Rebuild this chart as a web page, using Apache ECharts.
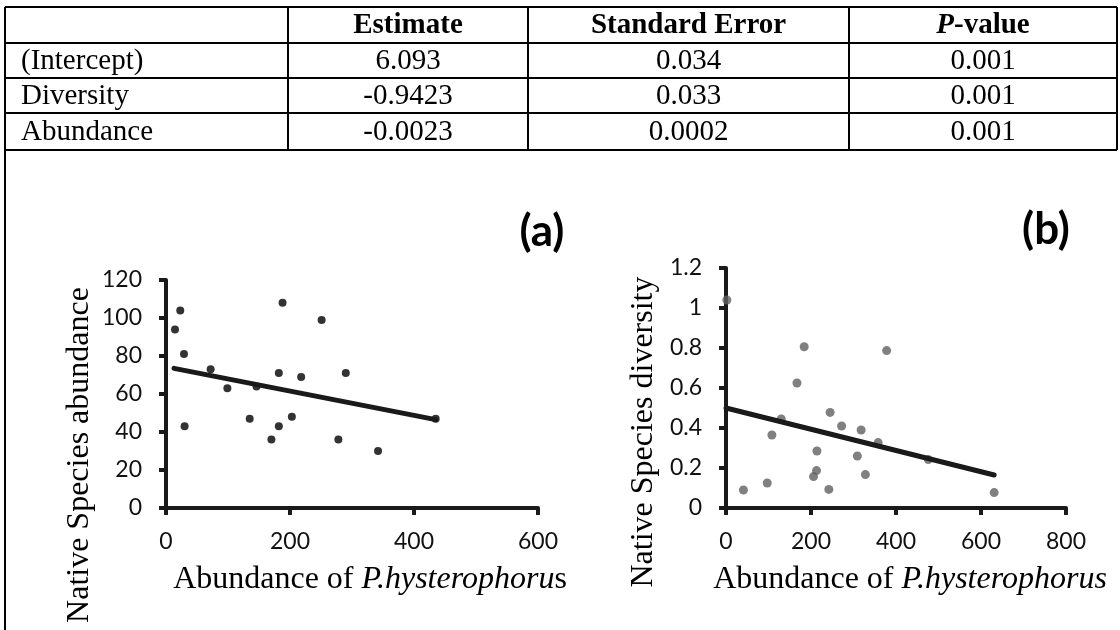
<!DOCTYPE html>
<html><head><meta charset="utf-8">
<script src="https://cdn.jsdelivr.net/npm/echarts@6/dist/echarts.min.js"></script>
<style>html,body{margin:0;padding:0;background:#fff}#c{width:1120px;height:630px}</style>
</head><body><div id="c"></div>
<script>
// ---- table data ----
const tableHeader = ['', 'Estimate', 'Standard Error', 'P-value'];
const tableRowNames = ['(Intercept)', 'Diversity', 'Abundance'];
const tableEstimate = ['6.093', '-0.9423', '-0.0023'];
const tableStdError = ['0.034', '0.033', '0.0002'];
const tablePValue = ['0.001', '0.001', '0.001'];

// ---- panel (a): native species abundance ----
const abundX = [14.5, 23, 29, 30, 72, 99, 135, 146, 170, 182, 182, 188, 203, 218, 251, 278, 290, 342, 435];
const abundY = [94, 104, 81, 43, 73, 63, 47, 64, 36, 71, 43, 108, 48, 69, 99, 36, 71, 30, 47];
const abundTrendX = [13, 435];
const abundTrendY = [73.5, 46.5];
const abundXTicks = [0, 600, 200];   // min, max, step
const abundYTicks = [0, 120, 20];

// ---- panel (b): native species diversity ----
const divX = [2, 41, 97, 108, 130, 167, 184, 206, 213, 214, 242, 245, 272, 309, 318, 328, 358, 378, 476, 631];
const divY = [1.04, 0.09, 0.125, 0.365, 0.445, 0.625, 0.806, 0.157, 0.187, 0.285, 0.093, 0.478, 0.41, 0.26, 0.39, 0.167, 0.327, 0.787, 0.242, 0.077];
const divTrendX = [0, 631];
const divTrendY = [0.50, 0.165];
const divXTicks = [0, 800, 200];
const divYTicks = [0, 1.2, 0.2];

const panelLabels = ['(a)', '(b)'];
const yTitles = ['Native Species abundance', 'Native Species diversity'];

const zip = (a, b) => a.map((v, i) => [v, b[i]]);
const AX = '#1a1a1a';
const serif = '"Liberation Serif", "Times New Roman", serif';
const sans = 'Lato, "Open Sans", sans-serif';

function xAxisOf(grid, t) {
  return {
    type: 'value', gridIndex: grid, min: t[0], max: t[1], interval: t[2],
    axisLine: { show: true, onZero: false, lineStyle: { color: AX, width: 4 } },
    axisTick: { show: true, length: 7, lineStyle: { color: AX, width: 4 } },
    axisLabel: { fontFamily: sans, fontSize: 23, color: '#111', margin: 22 },
    splitLine: { show: false }
  };
}
function yAxisOf(grid, t) {
  return {
    type: 'value', gridIndex: grid, min: t[0], max: t[1], interval: t[2],
    axisLine: { show: true, onZero: false, lineStyle: { color: AX, width: 4 } },
    axisTick: { show: true, length: 7, lineStyle: { color: AX, width: 4 } },
    axisLabel: { fontFamily: sans, fontSize: 23, color: '#111', margin: 24,
      formatter: v => String(Math.round(v * 10) / 10) },
    splitLine: { show: false }
  };
}

// ---- table graphics ----
const colX = [5, 288, 528, 849, 1117];
const rowY = [7, 43, 78, 113, 150];
const g = [];
rowY.forEach(y => g.push({ type: 'line', shape: { x1: colX[0], y1: y, x2: colX[4], y2: y }, style: { stroke: '#000', lineWidth: 2 } }));
colX.forEach((x, i) => g.push({ type: 'line', shape: { x1: x, y1: rowY[0], x2: x, y2: (i === 0 ? 630 : rowY[4]) }, style: { stroke: '#000', lineWidth: 2 } }));
const TF = 29;
const cellText = (txt, col, row, opts) => {
  const cy = (rowY[row] + rowY[row + 1]) / 2 + 1;
  const left = col === 0;
  g.push({ type: 'text', x: left ? colX[0] + 16 : (colX[col] + colX[col + 1]) / 2, y: cy,
    style: Object.assign({ text: txt, fill: '#000', font: TF + 'px ' + serif, align: left ? 'left' : 'center', verticalAlign: 'middle' }, opts || {}) });
};
cellText(tableHeader[1], 1, 0, { font: 'bold ' + TF + 'px ' + serif });
cellText(tableHeader[2], 2, 0, { font: 'bold ' + TF + 'px ' + serif });
cellText('{bi|' + tableHeader[3].slice(0, 1) + '}{b|' + tableHeader[3].slice(1) + '}', 3, 0, {
  font: 'bold ' + TF + 'px ' + serif,
  rich: { bi: { fontFamily: serif, fontSize: TF, fontWeight: 'bold', fontStyle: 'italic' }, b: { fontFamily: serif, fontSize: TF, fontWeight: 'bold' } } });
tableRowNames.forEach((n, r) => {
  cellText(n, 0, r + 1);
  cellText(tableEstimate[r], 1, r + 1);
  cellText(tableStdError[r], 2, r + 1);
  cellText(tablePValue[r], 3, r + 1);
});

// ---- panel labels and titles ----
g.push({ type: 'text', x: 542, y: 232, style: { text: panelLabels[0], font: 'bold 44px ' + sans, fill: '#000', align: 'center', verticalAlign: 'middle' } });
g.push({ type: 'text', x: 1046, y: 230, style: { text: panelLabels[1], font: 'bold 44px ' + sans, fill: '#000', align: 'center', verticalAlign: 'middle' } });
g.push({ type: 'text', x: 80, y: 455, rotation: Math.PI / 2, style: { text: yTitles[0], font: '32px ' + serif, fill: '#000', align: 'center', verticalAlign: 'middle' } });
g.push({ type: 'text', x: 644, y: 432, rotation: Math.PI / 2, style: { text: yTitles[1], font: '32px ' + serif, fill: '#000', align: 'center', verticalAlign: 'middle' } });
const richI = { i: { fontFamily: serif, fontSize: 32, fontStyle: 'italic' }, n: { fontFamily: serif, fontSize: 32 } };
g.push({ type: 'text', x: 370, y: 580, style: { text: '{n|Abundance of }{i|P.hysterophoru}{n|s}', fill: '#000', align: 'center', verticalAlign: 'middle', rich: richI } });
g.push({ type: 'text', x: 910, y: 580, style: { text: '{n|Abundance of }{i|P.hysterophorus}', fill: '#000', align: 'center', verticalAlign: 'middle', rich: richI } });

const option = {
  backgroundColor: '#fff',
  animation: false,
  grid: [
    { left: 166, top: 280, width: 372, height: 228, containLabel: false, outerBoundsMode: 'none' },
    { left: 726, top: 268, width: 340, height: 240, containLabel: false, outerBoundsMode: 'none' }
  ],
  xAxis: [xAxisOf(0, abundXTicks), xAxisOf(1, divXTicks)],
  yAxis: [yAxisOf(0, abundYTicks), yAxisOf(1, divYTicks)],
  series: [
    { type: 'scatter', xAxisIndex: 0, yAxisIndex: 0, data: zip(abundX, abundY), symbolSize: 8, itemStyle: { color: '#000' }, clip: false, z: 3 },
    { type: 'line', xAxisIndex: 0, yAxisIndex: 0, data: zip(abundTrendX, abundTrendY), symbol: 'none', lineStyle: { color: AX, width: 5, cap: 'round' }, z: 4 },
    { type: 'scatter', xAxisIndex: 1, yAxisIndex: 1, data: zip(divX, divY), symbolSize: 9, itemStyle: { color: '#606060' }, clip: false, z: 3 },
    { type: 'line', xAxisIndex: 1, yAxisIndex: 1, data: zip(divTrendX, divTrendY), symbol: 'none', lineStyle: { color: AX, width: 5, cap: 'round' }, z: 4 }
  ],
  graphic: g
};
const chart = echarts.init(document.getElementById('c'), null, { renderer: 'canvas' });
chart.setOption(option);
</script>
</body></html>
